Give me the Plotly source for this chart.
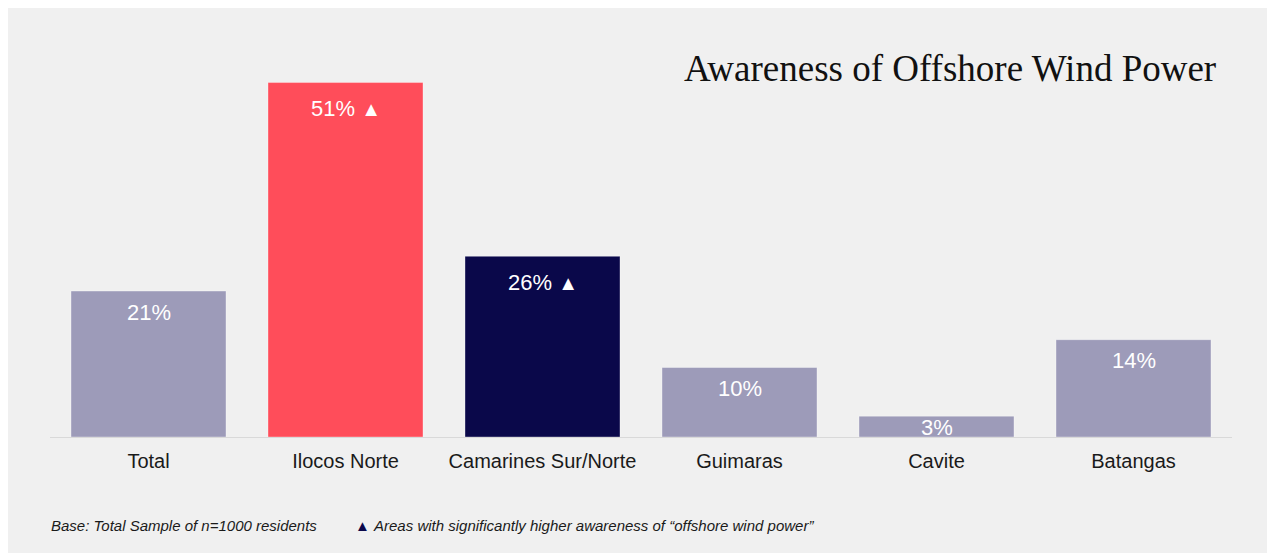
import plotly.graph_objects as go

categories = ["Total", "Ilocos Norte", "Camarines Sur/Norte", "Guimaras", "Cavite", "Batangas"]
values = [21, 51, 26, 10, 3, 14]
significant = [False, True, True, False, False, False]
bar_colors = ["#9d9bb9", "#ff4d5a", "#0a084a", "#9d9bb9", "#9d9bb9", "#9d9bb9"]
title_text = "Awareness of Offshore Wind Power"
footnote_base = "Base: Total Sample of n=1000 residents"
footnote_sig = "Areas with significantly higher awareness of \u201coffshore wind power\u201d"

# page offset of the figure (body margin)
OFF = 8
W, H = 1267, 553
L, R, T, B = 42, 43, 60, 124
plot_w = W - L - R
plot_h = H - T - B
px_per_unit = 6.95
y_max = plot_h / px_per_unit

def px_x(px):
    # px given in page coordinates
    return (px - OFF - L) / plot_w

def px_y(py):
    return (H - B - (py - OFF)) / plot_h

fig = go.Figure()
fig.add_trace(go.Bar(
    x=categories, y=values,
    marker=dict(color=bar_colors, line=dict(color="rgba(255,255,255,0.35)", width=1)),
    hoverinfo="skip",
))

annotations = []
offset_units = 21 / px_per_unit
for cat, v, sig in zip(categories, values, significant):
    label = f"{v}%"
    if sig:
        label += " <span style='font-size:20px'>\u25B2</span>"
    if v > 2 * offset_units:
        yv = v
        ysh = -(26 if sig else 21)
    else:
        yv = v / 2
        ysh = -1
    annotations.append(dict(
        x=cat, y=yv, xref="x", yref="y", text=label, showarrow=False,
        yanchor="middle", xanchor="center", yshift=ysh,
        font=dict(family="Liberation Sans, Arial, sans-serif", size=22, color="white"),
    ))

annotations.append(dict(
    x=px_x(1218), y=px_y(68), xref="paper", yref="paper", text=title_text,
    showarrow=False, xanchor="right", yanchor="middle",
    font=dict(family="Liberation Serif, Times New Roman, serif", size=37, color="#111111"),
))
annotations.append(dict(
    x=px_x(49), y=px_y(525), xref="paper", yref="paper", text=f"<i>{footnote_base}</i>",
    showarrow=False, xanchor="left", yanchor="middle",
    font=dict(family="Liberation Sans, Arial, sans-serif", size=15, color="#1a1a1a"),
))
annotations.append(dict(
    x=px_x(353), y=px_y(525), xref="paper", yref="paper",
    text=f"<span style='color:#0a084a'>\u25B2</span> <i>{footnote_sig}</i>",
    showarrow=False, xanchor="left", yanchor="middle",
    font=dict(family="Liberation Sans, Arial, sans-serif", size=15, color="#1a1a1a"),
))

fig.update_layout(
    width=W, height=H,
    margin=dict(l=L, r=R, t=T, b=B, pad=0),
    paper_bgcolor="#f0f0f0", plot_bgcolor="rgba(0,0,0,0)",
    bargap=42 / 197,
    showlegend=False,
    annotations=annotations,
    xaxis=dict(
        showline=True, linecolor="#d9d9d9", linewidth=1, ticks="",
        showgrid=False, zeroline=False, ticklabelstandoff=6,
        tickfont=dict(family="Liberation Sans, Arial, sans-serif", size=20, color="#1a1a1a"),
    ),
    yaxis=dict(range=[0, y_max], visible=False, showgrid=False, zeroline=False),
)

fig.write_html(
    "out.html",
    post_script=(
        "document.documentElement.style.overflow='hidden';"
        "document.body.style.overflow='hidden';"
        "document.body.style.margin='8px 0 0 8px';"
    ),
)
